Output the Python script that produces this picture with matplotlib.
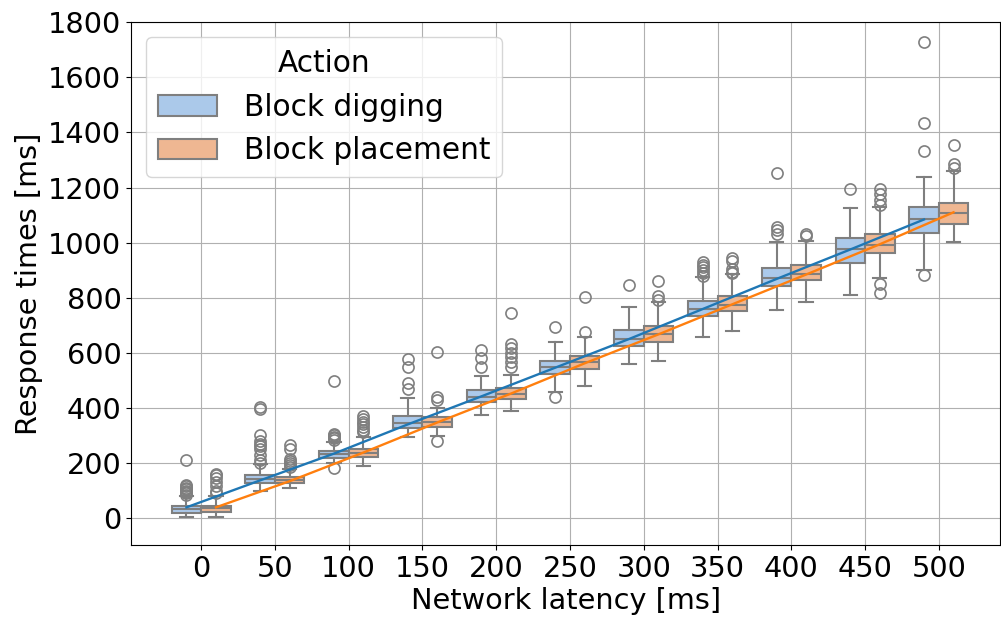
import numpy as np
import matplotlib
matplotlib.use("Agg")
import matplotlib.pyplot as plt
from matplotlib.patches import Patch
import seaborn as sns

latency = [0, 50, 100, 150, 200, 250, 300, 350, 400, 450, 500]
actions = ["Block digging", "Block placement"]

# box stats (ms)
dig_lo = [5, 99, 199, 296, 376, 458, 560, 656, 754, 810, 902]
dig_q1 = [20, 126, 219, 326, 423, 522, 623, 732, 841, 926, 1035]
dig_med = [33, 141, 233, 344, 441, 550, 651, 759, 872, 977, 1084]
dig_q3 = [45, 156, 245, 372, 465, 571, 681, 789, 908, 1017, 1128]
dig_hi = [80, 196, 277, 437, 517, 641, 768, 874, 1004, 1126, 1240]
dig_out = [
    [85, 90, 95, 100, 105, 110, 115, 120, 212],
    [200, 210, 230, 250, 260, 270, 280, 300, 395, 405],
    [181, 285, 290, 295, 300, 305, 497],
    [470, 490, 550, 578],
    [550, 581, 611],
    [439, 693],
    [847],
    [880, 890, 900, 910, 920, 930],
    [1033, 1045, 1057, 1253],
    [1196],
    [884, 1332, 1435, 1730],
]

pl_lo = [5, 109, 190, 298, 389, 478, 571, 680, 783, 870, 1003]
pl_q1 = [22, 126, 221, 332, 433, 541, 641, 750, 863, 962, 1069]
pl_med = [36, 138, 235, 348, 451, 566, 669, 775, 887, 993, 1108]
pl_q3 = [45, 148, 251, 366, 474, 589, 699, 805, 920, 1032, 1144]
pl_hi = [80, 177, 296, 401, 520, 656, 783, 886, 1005, 1130, 1259]
pl_out = [
    [90, 100, 115, 130, 145, 155, 160],
    [185, 192, 200, 208, 215, 250, 265],
    [314, 320, 330, 340, 350, 360, 370],
    [281, 429, 441, 603],
    [550, 568, 584, 599, 617, 632, 744],
    [674, 802],
    [793, 805, 859],
    [890, 895, 905, 935, 945],
    [1023, 1033],
    [817, 850, 1138, 1156, 1175, 1193],
    [1271, 1284, 1356],
]

# mean response per latency
dig_mean = [39, 137, 234, 340, 442, 546, 650, 759, 868, 975, 1084]
pl_mean = [39, 134, 238, 347, 452, 562, 667, 776, 884, 994, 1110]

pal = sns.color_palette("pastel")
fills = [sns.desaturate(pal[0], 0.75), sns.desaturate(pal[1], 0.75)]
gray = "#7f7f7f"
fs = 20.7

fig = plt.figure(figsize=(10.01, 6.18), dpi=100)
ax = fig.add_axes([0.131, 0.118, 0.868, 0.846])
ax.grid(True, color="#b0b0b0", linewidth=0.8)
ax.set_axisbelow(True)

x = np.arange(len(latency))


def stats(lo, q1, med, q3, hi, out):
    return [dict(whislo=a, q1=b, med=c, q3=d, whishi=e, fliers=f)
            for a, b, c, d, e, f in zip(lo, q1, med, q3, hi, out)]


groups = [
    (stats(dig_lo, dig_q1, dig_med, dig_q3, dig_hi, dig_out), -0.2, fills[0]),
    (stats(pl_lo, pl_q1, pl_med, pl_q3, pl_hi, pl_out), 0.2, fills[1]),
]
for st, off, col in groups:
    ax.bxp(st, positions=x + off, widths=0.4, capwidths=0.18,
           patch_artist=True, manage_ticks=False,
           boxprops=dict(facecolor=col, edgecolor=gray, linewidth=1.5),
           medianprops=dict(color=gray, linewidth=1.5),
           whiskerprops=dict(color=gray, linewidth=1.5),
           capprops=dict(color=gray, linewidth=1.5),
           flierprops=dict(marker="o", markerfacecolor="none",
                           markeredgecolor=gray, markersize=8,
                           markeredgewidth=1.2))

ax.plot(x - 0.2, dig_mean, color="tab:blue", lw=1.7, zorder=5)
ax.plot(x + 0.2, pl_mean, color="tab:orange", lw=1.7, zorder=5)

ax.set_xticks(x)
ax.set_xticklabels([str(v) for v in latency])
ax.set_yticks(np.arange(0, 1801, 200))
ax.set_xlim(-0.95, 10.83)
ax.set_ylim(-98, 1800)
ax.tick_params(labelsize=fs)
ax.set_xlabel("Network latency [ms]", fontsize=fs, labelpad=3)
ax.set_ylabel("Response times [ms]", fontsize=fs)

handles = [Patch(facecolor=c, edgecolor=gray, linewidth=1.5) for c in fills]
ax.legend(handles, actions, title="Action", loc="upper left",
          fontsize=21.3, title_fontsize=21.3, handletextpad=0.9)

fig.savefig("out.png", dpi=100)
